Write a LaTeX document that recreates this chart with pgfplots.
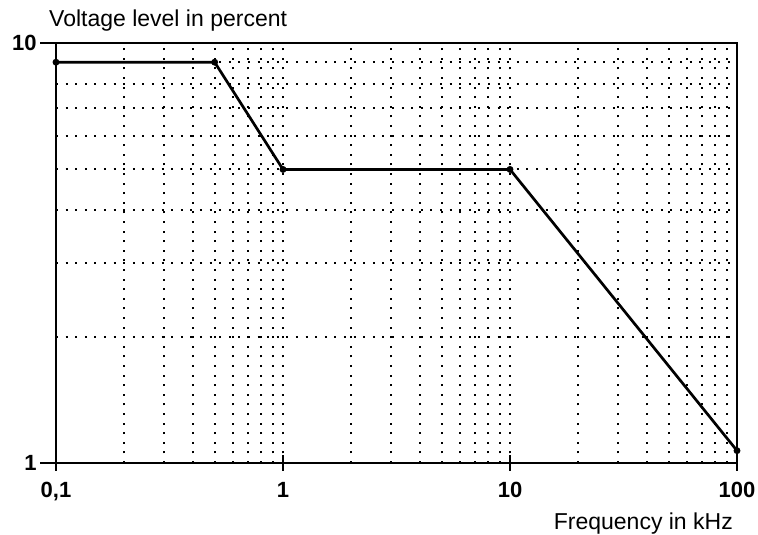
\documentclass[border=0pt]{standalone}
\usepackage{fontspec}
\setmainfont{Liberation Sans}
\usepackage{pgfplots}
\pgfplotsset{compat=1.18}
\begin{document}
\begin{tikzpicture}
\useasboundingbox (-56pt,-72pt) rectangle (702pt,463pt);
\begin{loglogaxis}[
  scale only axis, width=681pt, height=420pt,
  xmin=0.1, xmax=100, ymin=1, ymax=10,
  xtick={0.1,1,10,100}, xticklabels={{0,1},1,10,100},
  ytick={1,10}, yticklabels={1,10},
  xtick pos=bottom, ytick pos=left,
  tick align=outside,
  major tick length=16pt, minor tick length=0pt,
  every tick/.style={black, line width=1.6pt},
  xtick style={yshift=8pt},
  axis line style={black, line width=1.9pt},
  grid=both,
  major grid style={black, line width=2pt, dash pattern=on 2pt off 7.6pt},
  minor grid style={black, line width=2pt, dash pattern=on 2pt off 7.6pt},
  /pgf/number format/assume math mode=true,
  ticklabel style={font=\fontsize{22}{25}\selectfont\bfseries},
  title={Voltage level in percent},
  every axis title/.style={font=\fontsize{23}{27}\selectfont, at={(rel axis cs:0,1)}, anchor=base west, xshift=-7pt, yshift=16pt, inner sep=0pt},
  xlabel={Frequency in kHz},
  xlabel style={font=\fontsize{23}{27}\selectfont, at={(rel axis cs:1,0)}, anchor=base east, xshift=-4pt, yshift=-67pt, inner sep=0pt},
  clip=false,
]
\addplot[black, line width=2.7pt, mark=*, mark size=2pt] coordinates {
  (0.1,9) (0.5,9) (1,5) (10,5) (100,1.07)
};
\end{loglogaxis}
\end{tikzpicture}
\end{document}
